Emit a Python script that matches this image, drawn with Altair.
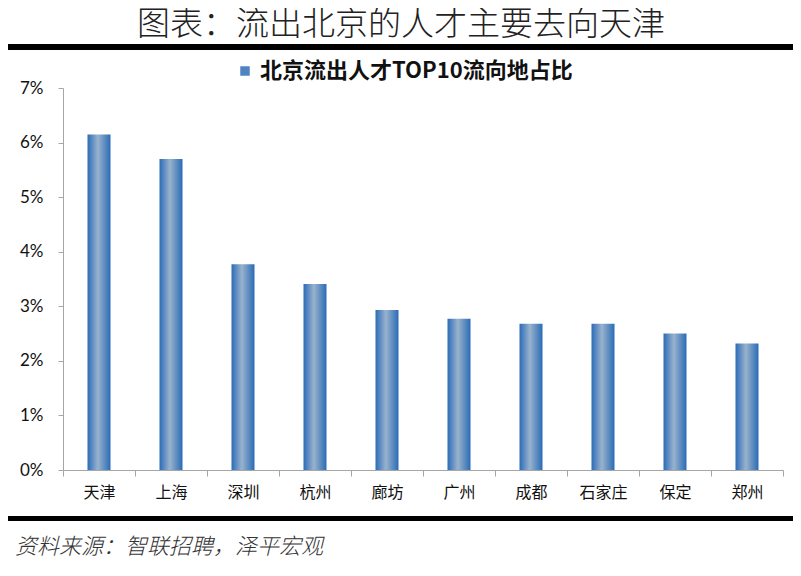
import altair as alt
import pandas as pd

title_text = "图表：流出北京的人才主要去向天津"
source_text = "资料来源：智联招聘，泽平宏观"
series_name = "北京流出人才TOP10流向地占比"
cities = ["天津", "上海", "深圳", "杭州", "廊坊", "广州", "成都", "石家庄", "保定", "郑州"]
shares = [0.0615, 0.0570, 0.0377, 0.0341, 0.0293, 0.0277, 0.0268, 0.0268, 0.0250, 0.0232]

df = pd.DataFrame({"city": cities, "share": shares})

W, H = 720, 382

grad = alt.Gradient(
    gradient="linear",
    stops=[
        alt.GradientStop(color="#2a6bb7", offset=0),
        alt.GradientStop(color="#9ab3cd", offset=0.45),
        alt.GradientStop(color="#2a6bb7", offset=1),
    ],
    x1=0, x2=1, y1=0, y2=0,
)

bars = alt.Chart(df).mark_bar(color=grad, size=23).encode(
    x=alt.X("city:N", sort=cities, title=None,
            scale=alt.Scale(paddingInner=0, paddingOuter=0),
            axis=alt.Axis(tickBand="extent", labelAngle=0, labelFont="Noto Sans CJK SC",
                          labelFontSize=16, labelColor="#111", labelPadding=8,
                          tickSize=6, tickColor="#a6a6a6", domainColor="#a6a6a6",
                          grid=False)),
    y=alt.Y("share:Q", title=None,
            scale=alt.Scale(domain=[0, 0.07], nice=False),
            axis=alt.Axis(format=".0%", values=[0, 0.01, 0.02, 0.03, 0.04, 0.05, 0.06, 0.07],
                          labelFont="Lato", labelFontSize=17, labelColor="#111",
                          labelPadding=15, tickSize=5, tickColor="#a6a6a6",
                          domainColor="#a6a6a6", grid=False)),
)

legend_layer = alt.Chart(pd.DataFrame({"series": [series_name]})).mark_square(
    filled=True, opacity=0
).encode(
    x=alt.value(0), y=alt.value(0),
    color=alt.Color("series:N", scale=alt.Scale(range=["#4f83c2"]),
                    legend=alt.Legend(title=None, orient="none", legendX=171, legendY=-28,
                                      symbolType="square", symbolSize=90,
                                      symbolOpacity=1, symbolFillColor="#4f83c2",
                                      symbolStrokeWidth=0, labelOffset=4,
                                      labelFont="Noto Sans CJK SC", labelFontWeight="bold",
                                      labelFontSize=22, labelColor="#111", labelLimit=600)),
)

title_layer = alt.Chart(pd.DataFrame({"t": [title_text]})).mark_text(
    font="Noto Sans CJK SC", fontSize=33, fontWeight=300, color="#222", align="center", baseline="middle"
).encode(text="t:N", x=alt.value(338), y=alt.value(-63))

source_layer = alt.Chart(pd.DataFrame({"t": [source_text]})).mark_text(
    font="Noto Sans CJK SC", fontSize=22, fontStyle="italic", fontWeight=300, color="#333",
    align="left", baseline="middle"
).encode(text="t:N", x=alt.value(-48), y=alt.value(459))

rule_top = alt.Chart(pd.DataFrame({"r": [0]})).mark_rule(color="black", strokeWidth=6).encode(
    x=alt.value(-63), x2=alt.value(738), y=alt.value(-41)
)
rule_bot = alt.Chart(pd.DataFrame({"r": [0]})).mark_rule(color="black", strokeWidth=5).encode(
    x=alt.value(-63), x2=alt.value(738), y=alt.value(430.5)
)

chart = alt.layer(bars, legend_layer, title_layer, source_layer, rule_top, rule_bot).properties(
    width=W, height=H,
    autosize=alt.AutoSizeParams(type="none"),
    padding={"left": 55, "top": 80, "right": 10, "bottom": 98},
    background="white",
).configure_view(stroke=None)

chart.save("out.html", embed_options={"renderer": "svg", "actions": False})
